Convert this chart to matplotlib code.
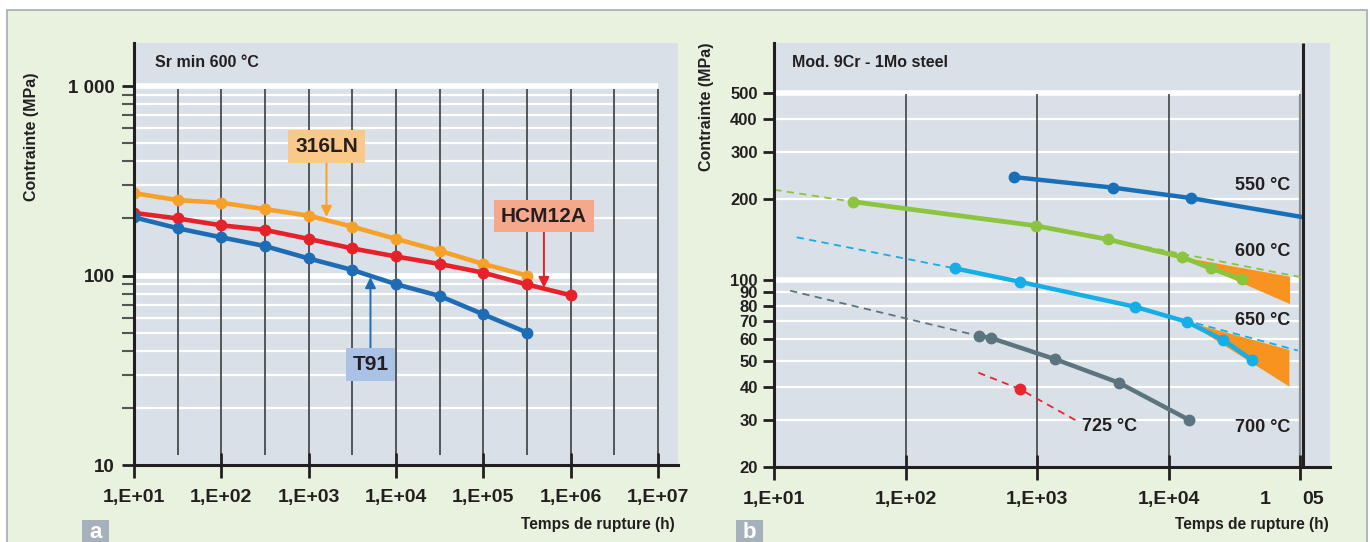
#contrainte de rupture en fonction du temps (a: comparaison, b: Mod. 9Cr-1Mo)
import numpy as np
import matplotlib
matplotlib.use("Agg")
import matplotlib.pyplot as plt
from matplotlib.patches import Rectangle, Polygon
from matplotlib.ticker import NullLocator, NullFormatter

plt.rcParams['font.family'] = ['Liberation Sans', 'DejaVu Sans']
plt.rcParams['font.weight'] = 'bold'

#données figure a (Sr min 600 °C)
t_a = [10, 31.6, 100, 316, 1000, 3160, 10000, 31600, 100000, 316000, 1000000]
s_316ln = [272, 250, 242, 224, 207, 181, 156, 135, 115, 100]
s_hcm12a = [214, 200, 184, 174, 156, 139, 126, 115, 103.5, 89.7, 78.7]
s_t91 = [203, 177.5, 159, 143, 123, 107, 90, 78, 62.4, 50]

#données figure b (Mod. 9Cr - 1Mo steel)
t_550 = [672, 3800, 14900, 102000]
s_550 = [242, 221, 202, 172]
t_600 = [39.4, 973, 3440, 12760, 21000, 36100]
s_600 = [196, 159.4, 141.8, 121.6, 110.5, 100.6]
t_600_ext = [10, 39.4]
s_600_ext = [217, 196]
t_600_tail = [3440, 103000]
s_600_tail = [141.8, 102.3]
t_600_fan = [12760, 84100, 84100]
s_600_fan = [121.6, 102.8, 81.3]
t_650 = [237, 736, 5580, 13770, 26100, 43150]
s_650 = [110.5, 98.5, 79.4, 69.8, 59.7, 50.3]
t_650_ext = [14.8, 237]
s_650_ext = [144.3, 110.5]
t_650_tail = [5580, 96600]
s_650_tail = [79.4, 54.5]
t_650_fan = [13770, 83200, 83200]
s_650_fan = [69.8, 54.8, 40]
t_700 = [362, 443, 1377, 4170, 14420]
s_700 = [61.8, 60.8, 50.6, 41.4, 30.0]
t_700_ext = [13.2, 362]
s_700_ext = [91.2, 61.8]
t_725 = [357, 736, 2056]
s_725 = [45.1, 39.2, 29.6]
t_725_pt = [736]
s_725_pt = [39.2]

xlabels_a = ["1,E+01", "1,E+02", "1,E+03", "1,E+04", "1,E+05", "1,E+06", "1,E+07"]
xlabels_b = ["1,E+01", "1,E+02", "1,E+03", "1,E+04", ""]
ylabels_b = ["20", "30", "40", "50", "60", "70", "80", "90", "100", "200", "300", "400", "500"]

GREEN_BG = "#e9f2df"
GREY_BG = "#d9e0e7"
TXT = "#231f20"

W, H = 1370, 542
fig = plt.figure(figsize=(W / 100, H / 100), dpi=100)
fig.patch.set_facecolor("white")

#cadre vert
fig.patches.append(Rectangle((7 / W, -0.02), 1360 / W, 1 - 10 / H + 0.02, transform=fig.transFigure,
                             facecolor=GREEN_BG, edgecolor="#a3acb5", lw=1.2, zorder=-10))


def px_axes(x0, y0, x1, y1):
    return fig.add_axes([x0 / W, 1 - y1 / H, (x1 - x0) / W, (y1 - y0) / H])


def style_axes(ax):
    ax.set_facecolor(GREY_BG)
    for s in ["top", "right"]:
        ax.spines[s].set_visible(False)
    for s in ["left", "bottom"]:
        ax.spines[s].set_linewidth(2.2)
        ax.spines[s].set_color(TXT)
        ax.spines[s].set_zorder(6)
    ax.set_xscale("log")
    ax.set_yscale("log")
    ax.xaxis.set_minor_locator(NullLocator())


# ---------------- figure a ----------------
ax = px_axes(134, 43, 678, 465)
style_axes(ax)
ax.set_xlim(10, 10 ** 7.229)
ax.set_ylim(10, 10 ** 3.227)

minor_a = [20, 30, 40, 50, 60, 70, 80, 90, 200, 300, 400, 500, 600, 700, 800, 900]
ax.hlines(minor_a, 10, 1e7, color="white", lw=1.6, zorder=1)
ax.hlines([100, 1000], 10, 1e7, color="white", lw=4, zorder=1)
ax.vlines(10 ** np.arange(1.5, 7.01, 0.5), 11.3, 960, color="#4a4a4a", lw=1.3, zorder=1)

ax.set_xticks([10 ** k for k in range(1, 8)], xlabels_a)
ax.set_yticks([10, 100, 1000], ["10", "100", "1 000"])
ax.set_yticks(minor_a, minor=True)
ax.yaxis.set_minor_formatter(NullFormatter())
ax.tick_params(axis="x", which="major", direction="inout", length=18, width=2, pad=8,
               labelsize=14, colors=TXT)
ax.tick_params(axis="y", which="major", direction="out", length=9, width=2, pad=5,
               labelsize=13.5, colors=TXT)
ax.tick_params(axis="y", which="minor", direction="out", length=9, width=1.5, color="#555555")

ax.plot(t_a[:len(s_316ln)], s_316ln, "-o", color="#f7a128", lw=3.3, ms=7.5, zorder=4)
ax.plot(t_a[:len(s_hcm12a)], s_hcm12a, "-o", color="#e62129", lw=3.3, ms=7.5, zorder=4)
ax.plot(t_a[:len(s_t91)], s_t91, "-o", color="#1e6db4", lw=3.3, ms=7.5, zorder=4)

ax.text(0.039, 0.953, "Sr min 600 °C", transform=ax.transAxes, fontsize=11.5, va="center", color=TXT)

#étiquettes avec flèches
def label_box(text, xy_text, xy_tip, fc, ec):
    ax.annotate("", xy=xy_tip, xytext=(xy_tip[0], xy_text[2]),
                arrowprops=dict(arrowstyle="-|>", color=ec, lw=1.4, mutation_scale=16,
                                shrinkA=0, shrinkB=0), zorder=5)
    ax.text(xy_text[0], xy_text[1], text, ha="center", va="center", fontsize=15, color=TXT,
            bbox=dict(boxstyle="square,pad=0.33", fc=fc, ec="none"), zorder=6)

label_box("316LN", (1603, 480, 397), (1600, 204), "#fac889", "#f7a128")
label_box("HCM12A", (494000, 206, 170), (494000, 86), "#f6a88d", "#e62129")
label_box("T91", (5100, 34, 40.9), (5100, 98), "#a9c2e6", "#1e6db4")

fig.text(32 / W, 1 - 137 / H, "Contrainte (MPa)", rotation=90, ha="center", va="center",
         fontsize=11.5, color=TXT)
fig.text(675 / W, 1 - 525 / H, "Temps de rupture (h)", ha="right", va="center",
         fontsize=11.2, color=TXT)

# ---------------- figure b ----------------
bx = px_axes(774.3, 43, 1330, 467.3)
style_axes(bx)
bx.set_xlim(10, 10 ** 5.229)
bx.set_ylim(20, 766)

yt_b = [20, 30, 40, 50, 60, 70, 80, 90, 100, 200, 300, 400, 500]
bx.hlines([30, 40, 50, 60, 70, 80, 90, 200, 300, 400], 10, 1e5, color="white", lw=1.6, zorder=1)
bx.hlines([100, 500], 10, 1e5, color="white", lw=4, zorder=1)
bx.vlines([100, 1000, 10000], 21.8, 494, color="#333333", lw=1.1, zorder=1)
bx.vlines([1e5], 20, 494, color="#8a8f94", lw=1.6, zorder=1)
bx.vlines([10 ** 5.026], 20, 766, color=TXT, lw=2.2, zorder=6)

bx.set_xticks([10 ** k for k in range(1, 6)], xlabels_b)
bx.set_xticks([10 ** 4.734, 10 ** 5.102], ["1", "05"], minor=True)
bx.set_yticks(yt_b, ylabels_b)
bx.yaxis.set_minor_locator(NullLocator())
bx.tick_params(axis="x", which="major", direction="inout", length=18, width=2, pad=8,
               labelsize=14, colors=TXT)
bx.tick_params(axis="x", which="minor", length=0, pad=17, labelsize=14, colors=TXT)
bx.tick_params(axis="y", which="major", direction="out", length=8, width=2, pad=4,
               labelsize=12, colors=TXT)

#zones orange
bx.add_patch(Polygon(np.column_stack([t_600_fan, s_600_fan]), closed=True, fc="#f7931e", ec="none", zorder=2))
bx.add_patch(Polygon(np.column_stack([t_650_fan, s_650_fan]), closed=True, fc="#f7931e", ec="none", zorder=2))

dash = dict(lw=1.3, ls=(0, (4, 3)), zorder=3)
bx.plot(t_600_ext, s_600_ext, color="#8bc43f", **dash)
bx.plot(t_600_tail, s_600_tail, color="#8bc43f", **dash)
bx.plot(t_650_ext, s_650_ext, color="#15aee8", **dash)
bx.plot(t_650_tail, s_650_tail, color="#15aee8", **dash)
bx.plot(t_700_ext, s_700_ext, color="#5c7480", **dash)
bx.plot(t_725, s_725, color="#e8262b", **dash)

bx.plot(t_550, s_550, "-o", color="#1a70b8", lw=3.2, ms=7.5, markevery=[0, 1, 2], zorder=4)
bx.plot(t_600, s_600, "-o", color="#8bc43f", lw=3.4, ms=7.5, zorder=4)
bx.plot(t_650, s_650, "-o", color="#15aee8", lw=3.2, ms=7.5, zorder=4)
bx.plot(t_700, s_700, "-o", color="#5c7480", lw=3.2, ms=7.5, zorder=4)
bx.plot(t_725_pt, s_725_pt, "o", color="#e8262b", ms=7.5, zorder=4)

for txt, y in [("550 °C", 225), ("600 °C", 127.5), ("650 °C", 70.5), ("700 °C", 28.1)]:
    bx.text(84100, y, txt, ha="right", va="center", fontsize=13, color=TXT, zorder=5)
bx.text(3540, 28.4, "725 °C", ha="center", va="center", fontsize=13, color=TXT, zorder=5)

bx.text(0.031, 0.954, "Mod. 9Cr - 1Mo steel", transform=bx.transAxes, fontsize=11.5,
        va="center", color=TXT)

fig.text(707 / W, 1 - 107 / H, "Contrainte (MPa)", rotation=90, ha="center", va="center",
         fontsize=11.5, color=TXT)
fig.text(1329 / W, 1 - 525 / H, "Temps de rupture (h)", ha="right", va="center",
         fontsize=11.2, color=TXT)

#lettres a et b
for x0, x1, letter in [(82, 109, "a"), (736, 763, "b")]:
    fig.patches.append(Rectangle((x0 / W, 0), (x1 - x0) / W, 22 / H, transform=fig.transFigure,
                                 facecolor="#a7b1bc", edgecolor="none", zorder=1))
    fig.text((x0 + x1) / 2 / W, 10 / H, letter, ha="center", va="center", fontsize=16,
             color="white")

fig.savefig("out.png", dpi=100)
